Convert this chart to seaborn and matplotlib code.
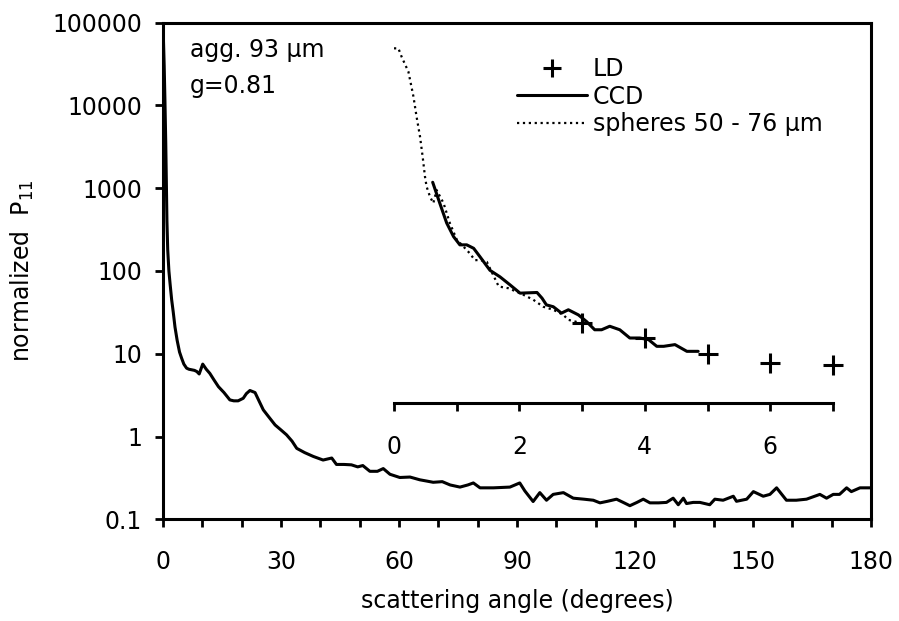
import numpy as np
import pandas as pd
import matplotlib
matplotlib.use("Agg")
import matplotlib.pyplot as plt
from matplotlib.lines import Line2D
from matplotlib.ticker import FixedLocator, FixedFormatter, NullLocator, MultipleLocator
import seaborn as sns

# ---------------- data ----------------
main_angle = [0.0, 0.3, 0.5, 0.7, 0.85, 1.0, 1.2, 1.5, 1.8, 2.2, 2.6, 3.05, 3.6, 4.2, 4.75, 5.3,
              6.0, 6.6, 7.3, 8.0, 8.6, 9.2, 10.1, 11.0, 11.9, 13.0, 14.1, 15.5, 17.0, 18.0, 19.1,
              20.4, 21.2, 22.1, 23.4, 24.4, 25.5, 27.0, 28.5, 30.0, 31.4, 32.8, 34.0, 36.0, 38.2,
              40.7, 42.9, 44.1, 46.0, 47.9, 49.5, 50.8, 52.6, 54.5, 56.0, 57.7, 60.2, 62.8, 65.3,
              67.0, 68.7, 71.0, 73.0, 75.5, 77.5, 78.9, 80.6, 84.0, 88.2, 90.7, 92.0, 94.1, 95.8,
              97.5, 99.2, 101.8, 104.3, 107.0, 109.4, 111.1, 113.0, 115.3, 117.0, 118.7, 120.5,
              122.1, 123.8, 126.0, 128.0, 129.7, 131.0, 132.3, 133.1, 134.8, 136.5, 139.0, 140.3,
              142.4, 145.0, 145.8, 148.4, 150.1, 152.6, 154.3, 156.0, 158.5, 161.0, 163.6, 167.0,
              168.7, 170.4, 172.0, 173.8, 175.0, 177.2, 180.0]
main_p11 = [95000, 30000, 11000, 3500, 1200, 400, 180, 100, 70, 45, 32, 21, 14.5, 10.5, 8.8, 7.5,
            6.7, 6.5, 6.4, 6.3, 6.1, 5.7, 7.5, 6.5, 5.8, 4.8, 4.0, 3.4, 2.77, 2.7, 2.7,
            2.9, 3.3, 3.6, 3.4, 2.7, 2.1, 1.7, 1.38, 1.2, 1.05, 0.88, 0.72, 0.64, 0.575,
            0.52, 0.55, 0.46, 0.46, 0.455, 0.43, 0.446, 0.38, 0.38, 0.41, 0.35, 0.32, 0.324, 0.30,
            0.29, 0.28, 0.285, 0.26, 0.245, 0.26, 0.275, 0.24, 0.24, 0.245, 0.275, 0.22, 0.164, 0.21,
            0.17, 0.20, 0.21, 0.18, 0.175, 0.17, 0.158, 0.165, 0.175, 0.16, 0.146, 0.16,
            0.175, 0.158, 0.158, 0.16, 0.18, 0.15, 0.18, 0.155, 0.16, 0.16, 0.15, 0.175,
            0.17, 0.19, 0.165, 0.175, 0.216, 0.19, 0.20, 0.24, 0.17, 0.17, 0.175, 0.20,
            0.18, 0.20, 0.20, 0.24, 0.216, 0.24, 0.24]

ccd_angle = [0.617, 0.73, 0.84, 0.95, 1.05, 1.16, 1.27, 1.37, 1.53, 1.69, 1.85, 2.01, 2.28, 2.36,
             2.43, 2.54, 2.67, 2.78, 2.94, 3.07, 3.2, 3.31, 3.44, 3.6, 3.76, 3.92, 4.06, 4.19,
             4.3, 4.48, 4.67, 4.85]
ccd_p11 = [1180, 660, 380, 260, 207, 207, 188, 149, 102, 85, 68, 54, 55, 47,
           39, 37, 31, 34, 29.5, 24.5, 19.5, 19.5, 21.5, 19.5, 15.5, 15.5, 14.8, 12.3,
           12.3, 12.9, 10.7, 10.7]

sph_angle = [0.0, 0.07, 0.12, 0.23, 0.31, 0.36, 0.415, 0.457, 0.494, 0.52, 0.574, 0.627, 0.68,
             0.79, 0.89, 1.0, 1.1, 1.21, 1.29, 1.37, 1.48, 1.67, 1.82, 2.01, 2.22, 2.38, 2.54,
             2.70, 2.78, 2.89, 2.97]
sph_p11 = [49000, 49000, 39000, 25500, 12800, 7300, 4200, 2400, 1380, 1045, 790, 660, 950,
           660, 380, 240, 200, 163, 135, 136, 129, 65, 62, 54, 45, 37, 34,
           29.5, 25.7, 24.5, 23.5]

ld_angle = [3, 4, 5, 6, 7]
ld_p11 = [23.4, 15.5, 9.8, 7.7, 7.35]

y_ticks = [0.1, 1, 10, 100, 1000, 10000, 100000]
y_ticklabels = ["0.1", "1", "10", "100", "1000", "10000", "100000"]
x_ticks = [0, 30, 60, 90, 120, 150, 180]
inset_ticks = [0, 2, 4, 6]

# ---------------- style ----------------
sns.set_theme(style="ticks")
plt.rcParams["font.family"] = ["DejaVu Sans"]
plt.rcParams["mathtext.fontset"] = "dejavusans"
plt.rcParams["text.color"] = "black"
FS = 17

fig = plt.figure(figsize=(8.99, 6.21), dpi=100)
W, H = 899, 621
ax_l, ax_r, ax_t, ax_b = 163, 871, 22.7, 519.3
ax = fig.add_axes([ax_l / W, 1 - ax_b / H, (ax_r - ax_l) / W, (ax_b - ax_t) / H])

main_df = pd.DataFrame({"angle": main_angle, "p11": main_p11})
sns.lineplot(data=main_df, x="angle", y="p11", ax=ax, color="black", lw=2.2,
             estimator=None, sort=False)
ax.set_yscale("log")
ax.set_xlim(0, 180)
ax.set_ylim(0.1, 100000)
ax.yaxis.set_major_locator(FixedLocator(y_ticks))
ax.yaxis.set_major_formatter(FixedFormatter(y_ticklabels))
ax.yaxis.set_minor_locator(NullLocator())
ax.xaxis.set_major_locator(FixedLocator(x_ticks))
ax.xaxis.set_minor_locator(MultipleLocator(10))
for s in ax.spines.values():
    s.set_linewidth(2.2)
    s.set_color("black")
ax.tick_params(axis="both", which="both", direction="out", length=6, width=2, color="black",
               labelsize=FS, labelcolor="black")
ax.tick_params(axis="y", pad=9)
ax.tick_params(axis="x", pad=16)
ax.set_xlabel("scattering angle (degrees)", fontsize=FS, labelpad=11, color="black")
ax.set_ylabel("normalized  P$_{11}$", fontsize=FS, labelpad=12, color="black")

ax.text(0.038, 0.931, "agg. 93 µm", transform=ax.transAxes, fontsize=FS, va="baseline",
        ha="left", color="black")
ax.text(0.038, 0.858, "g=0.81", transform=ax.transAxes, fontsize=FS, va="baseline",
        ha="left", color="black")

# ---------------- inset ----------------
in_l, in_r = 394, 833
axi = fig.add_axes([in_l / W, 1 - ax_b / H, (in_r - in_l) / W, (ax_b - ax_t) / H])
axi.patch.set_alpha(0)
sph_df = pd.DataFrame({"angle": sph_angle, "p11": sph_p11})
ccd_df = pd.DataFrame({"angle": ccd_angle, "p11": ccd_p11})
ld_df = pd.DataFrame({"angle": ld_angle, "p11": ld_p11})
sns.lineplot(data=sph_df, x="angle", y="p11", ax=axi, color="black", lw=1.6, ls=":",
             estimator=None, sort=False)
sns.lineplot(data=ccd_df, x="angle", y="p11", ax=axi, color="black", lw=2.2,
             estimator=None, sort=False)
sns.scatterplot(data=ld_df, x="angle", y="p11", ax=axi, color="black", marker="+",
                s=190, linewidth=2.2, clip_on=False, zorder=5)
axi.set_yscale("log")
axi.set_ylim(0.1, 100000)
axi.set_xlim(0, 7)
for k in ["top", "left", "right"]:
    axi.spines[k].set_visible(False)
axi.spines["bottom"].set_position(("data", 2.55))
axi.spines["bottom"].set_linewidth(2.2)
axi.spines["bottom"].set_color("black")
axi.yaxis.set_visible(False)
axi.xaxis.set_major_locator(FixedLocator(inset_ticks))
axi.xaxis.set_minor_locator(FixedLocator([1, 3, 5, 7]))
axi.tick_params(axis="x", which="both", direction="out", length=6, width=2, color="black",
                labelsize=FS, labelcolor="black", pad=17)
axi.set_xlabel("")
axi.set_ylabel("")

handles = [
    Line2D([], [], color="black", ls="none", marker="+", markersize=13, markeredgewidth=2.2),
    Line2D([], [], color="black", lw=2.2),
    Line2D([], [], color="black", lw=1.6, ls=":"),
]
labels = ["LD", "CCD", "spheres 50 - 76 µm"]
ax.legend(handles, labels, loc="upper left", bbox_to_anchor=(0.5, 0.931),
          frameon=False, fontsize=FS, handlelength=2.95, handletextpad=0.25,
          labelspacing=0.15, borderpad=0, borderaxespad=0, labelcolor="black")

fig.savefig("out.png", dpi=100)
